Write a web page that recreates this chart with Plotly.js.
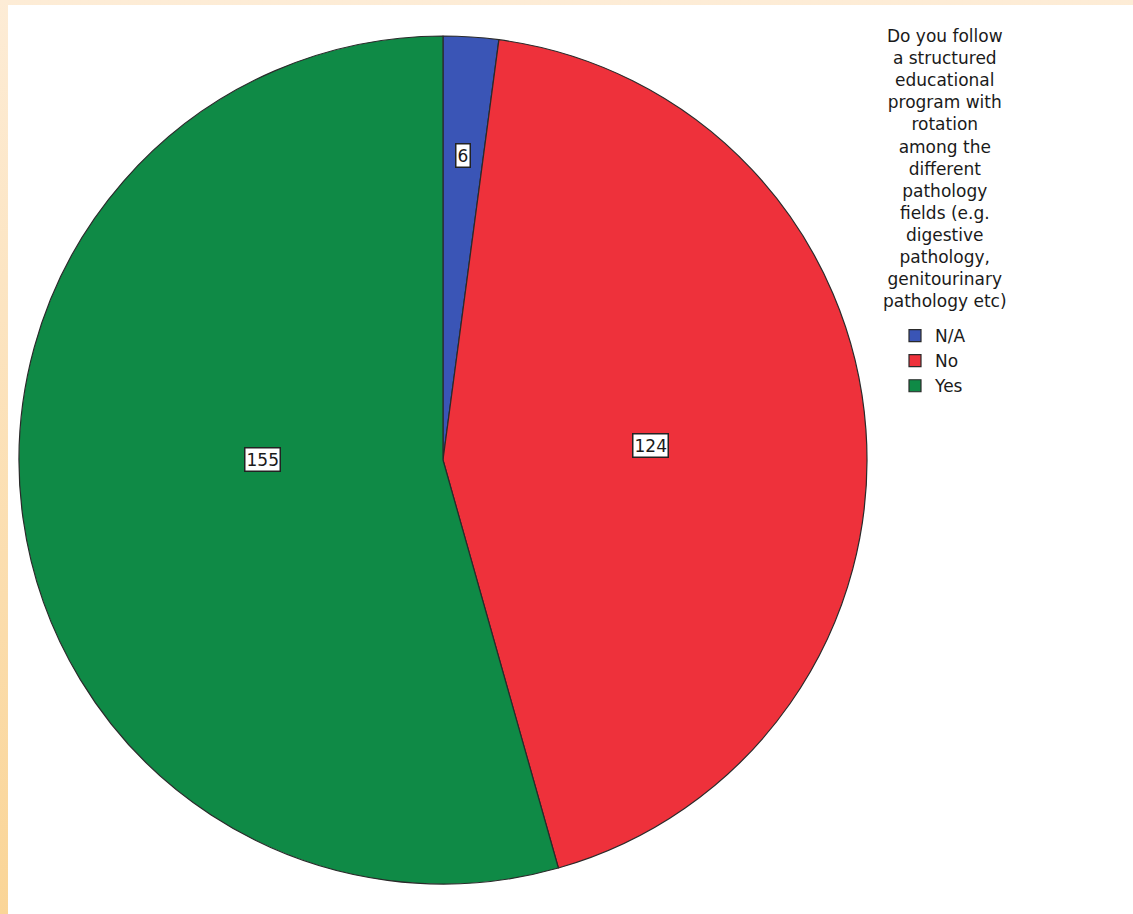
<!DOCTYPE html>
<html>
<head>
<meta charset="utf-8">
<script src="https://cdn.plot.ly/plotly-3.0.1.min.js"></script>
<style>
  html, body { margin: 0; padding: 0; }
  #wrap { position: relative; width: 1133px; height: 914px;
          background: linear-gradient(to bottom, #fdecd6, #fad597); }
  #inner { position: absolute; left: 8px; top: 5px; width: 1125px; height: 909px; background: #ffffff; }
  #plot { position: absolute; left: 0; top: 0; width: 1133px; height: 914px; }
</style>
</head>
<body>
<div id="wrap"><div id="inner"></div><div id="plot"></div></div>
<script>
// ---- data ----
const categories = ["N/A", "No", "Yes"];
const counts = [6, 124, 155];
const sliceColors = ["#3a55b6", "#ee313b", "#0f8a46"];
const legendTitleLines = ["Do you follow", "a structured", "educational", "program with", "rotation",
  "among the", "different", "pathology", "fields (e.g.", "digestive", "pathology,",
  "genitourinary", "pathology etc)"];

// ---- layout geometry (pixels) ----
const W = 1133, H = 914;
const CX = 443, CY = 460, R = 424;
const labelRadius = [0.72, 0.49, 0.425];
const labelAngleShiftDeg = [0, 0, 8];

const dom = {
  x: [(CX - R) / W, (CX + R) / W],
  y: [1 - (CY + R) / H, 1 - (CY - R) / H]
};

const FONT = "DejaVu Sans, Liberation Sans, Arial";
const total = counts.reduce((a, b) => a + b, 0);
let cum = 0;
const annotations = counts.map((v, i) => {
  const mid = (cum + v / 2) / total * 2 * Math.PI + labelAngleShiftDeg[i] * Math.PI / 180;
  cum += v;
  const r = R * labelRadius[i];
  const px = CX + r * Math.sin(mid);
  const py = CY - r * Math.cos(mid);
  return {
    xref: "paper", yref: "paper", x: px / W, y: 1 - py / H,
    xanchor: "center", yanchor: "middle",
    text: String(v), showarrow: false,
    font: { family: FONT, size: 17, color: "#1a1a1a" },
    bgcolor: "#ffffff", bordercolor: "#222222", borderwidth: 1.5, borderpad: 1
  };
});

annotations.push({
  xref: "paper", yref: "paper", x: 945 / W, y: 1 - 24 / H,
  xanchor: "center", yanchor: "top", align: "center", showarrow: false,
  text: legendTitleLines.join("<br>"),
  font: { family: FONT, size: 17, color: "#1a1a1a" }
});

const trace = {
  type: "pie",
  labels: categories,
  values: counts,
  sort: false,
  direction: "clockwise",
  rotation: 0,
  domain: dom,
  marker: { colors: sliceColors, line: { color: "#2a2a2a", width: 1.2 } },
  textinfo: "none",
  hoverinfo: "label+value"
};

const layout = {
  width: W, height: H,
  margin: { l: 0, r: 0, t: 0, b: 0 },
  paper_bgcolor: "rgba(0,0,0,0)",
  plot_bgcolor: "rgba(0,0,0,0)",
  showlegend: true,
  legend: {
    x: 895 / W, y: 1 - 318 / H, xanchor: "left", yanchor: "top",
    font: { family: FONT, size: 17, color: "#1a1a1a" },
    bgcolor: "rgba(0,0,0,0)", tracegroupgap: 0
  },
  annotations: annotations
};

Plotly.newPlot("plot", [trace], layout, { displayModeBar: false, staticPlot: true });
</script>
</body>
</html>
